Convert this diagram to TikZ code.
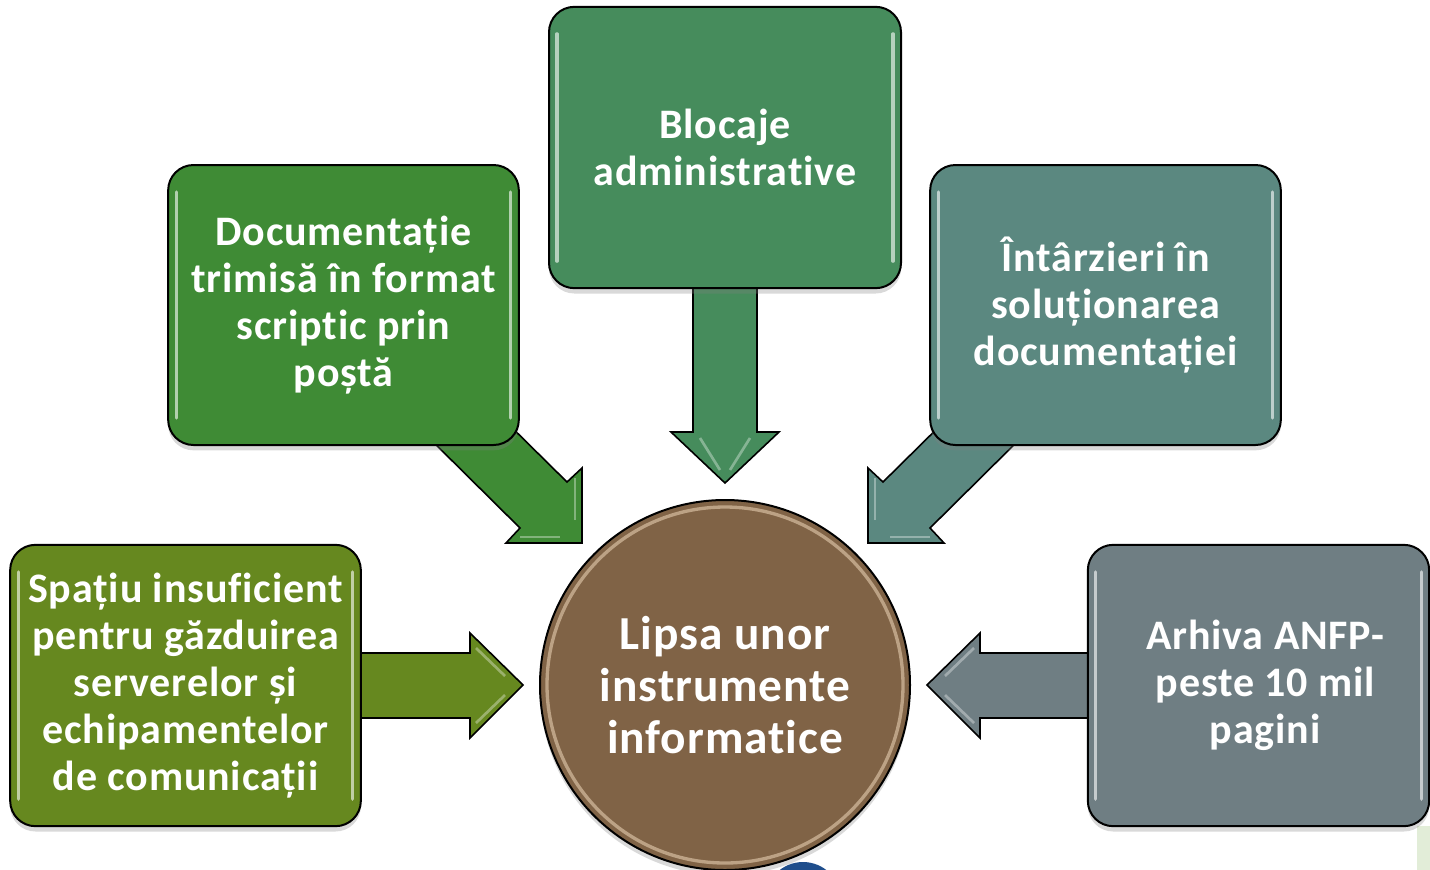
\documentclass[tikz,border=0pt]{standalone}
\usepackage{fontspec}
\setmainfont{Carlito}[Ligatures=NoCommon, LetterSpace=2]
\usetikzlibrary{shadows,calc}
\definecolor{cA}{RGB}{70,140,92}
\definecolor{cB}{RGB}{63,139,53}
\definecolor{cC}{RGB}{91,136,128}
\definecolor{cD}{RGB}{102,136,31}
\definecolor{cE}{RGB}{111,126,131}
\definecolor{cF}{RGB}{128,99,70}
\definecolor{cFring}{RGB}{214,190,160}
\definecolor{cblue}{RGB}{31,78,140}
\definecolor{cpale}{RGB}{226,237,216}
\begin{document}
\begin{tikzpicture}[x=0.75pt,y=-0.75pt,
  box/.style={draw=black, line width=1.5pt, rounded corners=19pt, inner sep=0pt,
    text=white, font=\bfseries\fontsize{31.5}{35.25}\selectfont, align=center,
    minimum width=263pt, minimum height=210pt,
    drop shadow={opacity=0.3, shadow xshift=0pt, shadow yshift=-4pt}},
  barrow/.style={draw=black, line width=1.2pt, line join=miter},
  hl/.style={white, opacity=0.6, line width=2.4pt, line cap=round},
]
\useasboundingbox (0,0) rectangle (1430,869);
\clip (0,0) rectangle (1430,869);

% background fragments
\fill[cpale] (1417,826) rectangle (1432,872);
\fill[cblue] (803,900) circle[radius=38];

% block arrows (behind the boxes)
\coordinate (tA) at (725,483);
\coordinate (tB) at (582,543);
\coordinate (tC) at (868,543);
\coordinate (tD) at (523,685);
\coordinate (tE) at (927,685);

\filldraw[barrow, fill=cA] (693,250) -- (693,432) -- (671,432) -- (tA) -- (779,432) -- (757,432) -- (757,250) -- cycle;
\filldraw[barrow, fill=cB] (410,419) -- (520,528) -- (506,543) -- (tB) -- (582,468) -- (567,482) -- (489,405) -- cycle;
\filldraw[barrow, fill=cC] (1040,419) -- (930,528) -- (944,543) -- (tC) -- (868,468) -- (883,482) -- (961,405) -- cycle;
\filldraw[barrow, fill=cD] (330,653) -- (470,653) -- (470,633) -- (tD) -- (470,738) -- (470,718) -- (330,718) -- cycle;
\filldraw[barrow, fill=cE] (1120,653) -- (980,653) -- (980,633) -- (tE) -- (980,738) -- (980,718) -- (1120,718) -- cycle;

% arrow bevel highlights
\foreach \a/\b in {{(700,438)}/{(720,470)}, {(750,438)}/{(730,470)}, {(575,478)}/{(575,520)}, {(520,537)}/{(560,537)},
  {(875,478)}/{(875,520)}, {(930,537)}/{(890,537)}, {(476,648)}/{(505,676)}, {(476,723)}/{(505,695)},
  {(974,648)}/{(945,676)}, {(974,723)}/{(945,695)}}
  \draw[white, opacity=0.35, line width=2pt] \a -- \b;

% boxes
\node[box, fill=cA, minimum width=264pt, minimum height=211pt] (b1) at (725,147.5) {Blocaje\\administrative};
\node[box, fill=cB] (b2) at (343.5,305) {Documentație\\trimisă în format\\scriptic prin\\poștă};
\node[box, fill=cC] (b3) at (1105.5,305) {Întârzieri în\\soluționarea\\documentației};
\node[box, fill=cD, minimum height=211pt] (b4) at (185.5,685.5) {Spațiu insuficient\\pentru găzduirea\\serverelor și\\echipamentelor\\de comunicații};
\node[box, fill=cE, minimum width=256pt, minimum height=211pt] (b5) at (1258.5,685.5) {\hspace*{10pt}Arhiva ANFP-\\\hspace*{10pt}peste 10 mil\\\hspace*{10pt}pagini};

% glossy edge highlights
\foreach \n in {b1,b2,b3,b4,b5}{
  \draw[hl] ($(\n.north west)+(9,28)$) -- ($(\n.south west)+(9,-28)$);
  \draw[hl] ($(\n.north east)+(-9,28)$) -- ($(\n.south east)+(-9,-28)$);
}

% central circle
\node[circle, draw=black, line width=1.5pt, fill=cF, minimum size=277.5pt, inner sep=0pt,
  text=white, font=\bfseries\fontsize{35.5}{39}\selectfont, align=center,
  drop shadow={opacity=0.3, shadow xshift=0pt, shadow yshift=-4pt}] (c) at (725,685)
  {Lipsa unor\\instrumente\\informatice};
\draw[cFring, opacity=0.7, line width=2.5pt] (c.center) circle[radius=178];
\end{tikzpicture}
\end{document}
